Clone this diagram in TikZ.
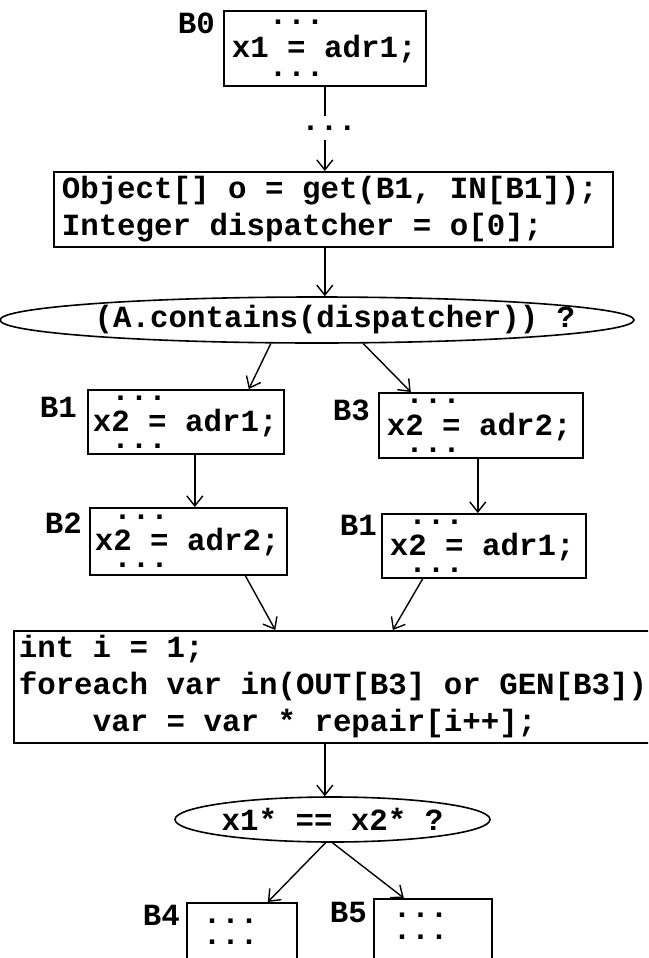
\documentclass[tikz,border=0pt]{standalone}
\usepackage{fontspec}
\newfontfamily\codefont{Liberation Mono}
\newcommand{\codetype}{\codefont\bfseries\fontsize{30.8}{37}\selectfont
  \fontdimen2\font=18.48pt \fontdimen3\font=0pt \fontdimen4\font=0pt }
\usetikzlibrary{arrows.meta,shapes.geometric}

\begin{document}
\begin{tikzpicture}[x=1pt,y=-1pt,
  code/.style={font=\codetype},
  blk/.style={code, draw, line width=1.6pt, anchor=north west, align=flush left, inner xsep=8pt, inner ysep=0pt},
  cond/.style={code, draw, line width=1.6pt, ellipse, inner ysep=0pt},
  tag/.style={code, anchor=north east, inner sep=0pt},
  link/.style={line width=1.4pt},
  arr/.style={link, -{Straight Barb[length=10pt,width=16pt]}}]

\fill[white] (0,0) rectangle (648,958);
\useasboundingbox (0,0) rectangle (648,958);
\clip (0,0) rectangle (648,958);

% B0 -- entry block
\node[blk, text width=186pt, minimum height=75pt] (b0) at (223,10)
  {\hspace*{37pt}...\\[-4pt]x1 = adr1;\\[-18pt]\hspace*{37pt}...};
\node[tag] (lb0) at ([xshift=-8pt,yshift=-3pt]b0.north west) {B0};
\node[code, inner xsep=0pt, inner ysep=10pt] (gap) at (329,128) {...};

% lookup of the dispatcher
\node[blk, text width=543pt, minimum height=75pt] (obj) at (53,171)
  {Object[] o = get(B1, IN[B1]);\\Integer dispatcher = o[0];};
\node[cond, inner xsep=-40pt, minimum width=634pt, minimum height=46pt] (cond1) at (317,320)
  {\hspace*{36pt}(A.contains(dispatcher)) ?};

% left branch
\node[blk, inner xsep=5pt, text width=186pt, minimum height=64pt] (b1) at (87,389)
  {\hspace*{18.5pt}...\\[-6pt]x2 = adr1;\\[-20pt]\hspace*{18.5pt}...};
\node[tag] (lb1) at ([xshift=-10pt,yshift=-8pt]b1.north west) {B1};
\node[blk, inner xsep=5pt, text width=187pt, minimum height=67pt] (b2) at (89,507)
  {\hspace*{18.5pt}...\\[-6pt]x2 = adr2;\\[-20pt]\hspace*{18.5pt}...};
\node[tag] (lb2) at ([xshift=-7pt,yshift=-6pt]b2.north west) {B2};

% right branch
\node[blk, text width=188pt, minimum height=65pt] (b3) at (378,392)
  {\hspace*{18.5pt}...\\[-5pt]x2 = adr2;\\[-20pt]\hspace*{18.5pt}...};
\node[tag] (lb3) at ([xshift=-8pt,yshift=-8pt]b3.north west) {B3};
\node[blk, text width=188pt, minimum height=64pt] (b1b) at (381,513)
  {\hspace*{18.5pt}...\\[-6pt]x2 = adr1;\\[-20pt]\hspace*{18.5pt}...};
\node[tag] (lb1b) at ([xshift=-4pt,yshift=-2pt]b1b.north west) {B1};

% repair loop
\node[blk, inner xsep=5pt, text width=646pt, minimum height=112pt] (loop) at (13,630)
  {int i = 1;\\foreach var in(OUT[B3] or GEN[B3])\\\hspace*{74pt}var = var * repair[i++];};
\node[cond, inner xsep=-20pt, minimum width=315pt, minimum height=45pt] (cond2) at (332.5,819.5)
  {x1* == x2* ?};

% exits
\node[blk, text width=94pt, minimum height=72pt] (b4) at (186,902)
  {\hspace*{8pt}...\\[-16pt]\hspace*{8pt}...\rule[-14pt]{0pt}{14pt}};
\node[tag] (lb4) at ([xshift=-6pt,yshift=-3pt]b4.north west) {B4};
\node[blk, text width=102pt, minimum height=69pt] (b5) at (373,898)
  {\hspace*{11pt}...\\[-15pt]\hspace*{11pt}...\rule[-14pt]{0pt}{14pt}};
\node[tag] (lb5) at ([xshift=-6pt,yshift=-4pt]b5.north west) {B5};

% connectors
\draw[link] (b0.south) -- (b0.south |- gap.north);
\draw[arr] (b0.south |- gap.south) -- (b0.south |- obj.north);
\draw[arr] (b0.south |- obj.south) -- (b0.south |- cond1.north);
\draw[arr] (cond1.207) -- ([xshift=63pt]b1.north);
\draw[arr] (cond1.-27) -- ([xshift=-70pt]b3.north);
\draw[arr] ([xshift=9pt]b1.south) -- ([xshift=9pt]b1.south |- b2.north);
\draw[arr] ([xshift=-3pt]b3.south) -- ([xshift=-3pt]b3.south |- b1b.north);
\draw[arr] ([xshift=57pt]b2.south) -- ([xshift=87pt]b2.south |- loop.north);
\draw[arr] ([xshift=-61pt]b1b.south) -- ([xshift=-91pt]b1b.south |- loop.north);
\draw[arr] (b0.south |- loop.south) -- (b0.south |- cond2.north);
\draw[arr] ([xshift=-7pt]cond2.south) -- ([xshift=26pt]b4.north);
\draw[arr] (cond2.south) -- ([xshift=-29pt]b5.north);

\end{tikzpicture}
\end{document}
